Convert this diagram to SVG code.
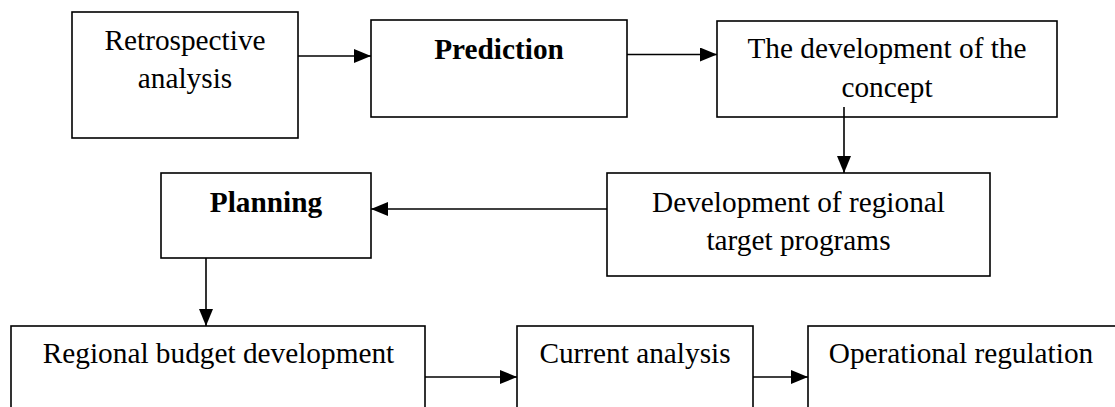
<svg xmlns="http://www.w3.org/2000/svg" width="1115" height="407" viewBox="0 0 1115 407">
<style>
.box{fill:#fff;stroke:#000;stroke-width:1.6}
.t{font-family:"Liberation Serif","Times New Roman",serif;font-size:29.3px;fill:#000;text-anchor:middle}
.b{font-weight:bold}
.c{stroke:#000;stroke-width:1.6;fill:none}
</style>
<defs>
<marker id="ah" markerUnits="userSpaceOnUse" markerWidth="18" markerHeight="14" refX="17" refY="7" orient="auto">
<polygon points="0,0 17,7 0,14" fill="#000"/>
</marker>
</defs>
<rect width="1115" height="407" fill="#fff"/>
<g id="n1">
<rect class="box" x="72" y="12" width="226" height="126"/>
<text class="t" x="185" y="50">Retrospective</text>
<text class="t" x="185" y="88">analysis</text>
</g>
<g id="n2">
<rect class="box" x="371" y="20" width="256" height="97"/>
<text class="t b" x="499" y="59">Prediction</text>
</g>
<g id="n3">
<rect class="box" x="717" y="21" width="340" height="96"/>
<text class="t" x="887" y="58">The development of the</text>
<text class="t" x="887" y="97">concept</text>
</g>
<g id="n4">
<rect class="box" x="607" y="173" width="383" height="103"/>
<text class="t" x="798.5" y="212">Development of regional</text>
<text class="t" x="798.5" y="250">target programs</text>
</g>
<g id="n5">
<rect class="box" x="161" y="173" width="210" height="85"/>
<text class="t b" x="266" y="212">Planning</text>
</g>
<g id="n6">
<rect class="box" x="11" y="326" width="414" height="110"/>
<text class="t" x="218.5" y="363">Regional budget development</text>
</g>
<g id="n7">
<rect class="box" x="517" y="326" width="236" height="110"/>
<text class="t" x="635" y="363">Current analysis</text>
</g>
<g id="n8">
<rect class="box" x="808" y="326" width="310" height="110"/>
<text class="t" x="961" y="363">Operational regulation</text>
</g>
<g id="connectors">
<line class="c" x1="298" y1="56" x2="371" y2="56" marker-end="url(#ah)"/>
<line class="c" x1="627" y1="54.5" x2="717" y2="54.5" marker-end="url(#ah)"/>
<line class="c" x1="844" y1="107" x2="844" y2="173" marker-end="url(#ah)"/>
<line class="c" x1="607" y1="209" x2="371" y2="209" marker-end="url(#ah)"/>
<line class="c" x1="206" y1="258" x2="206" y2="326" marker-end="url(#ah)"/>
<line class="c" x1="425" y1="377" x2="517" y2="377" marker-end="url(#ah)"/>
<line class="c" x1="753" y1="377" x2="808" y2="377" marker-end="url(#ah)"/>
</g>
</svg>
